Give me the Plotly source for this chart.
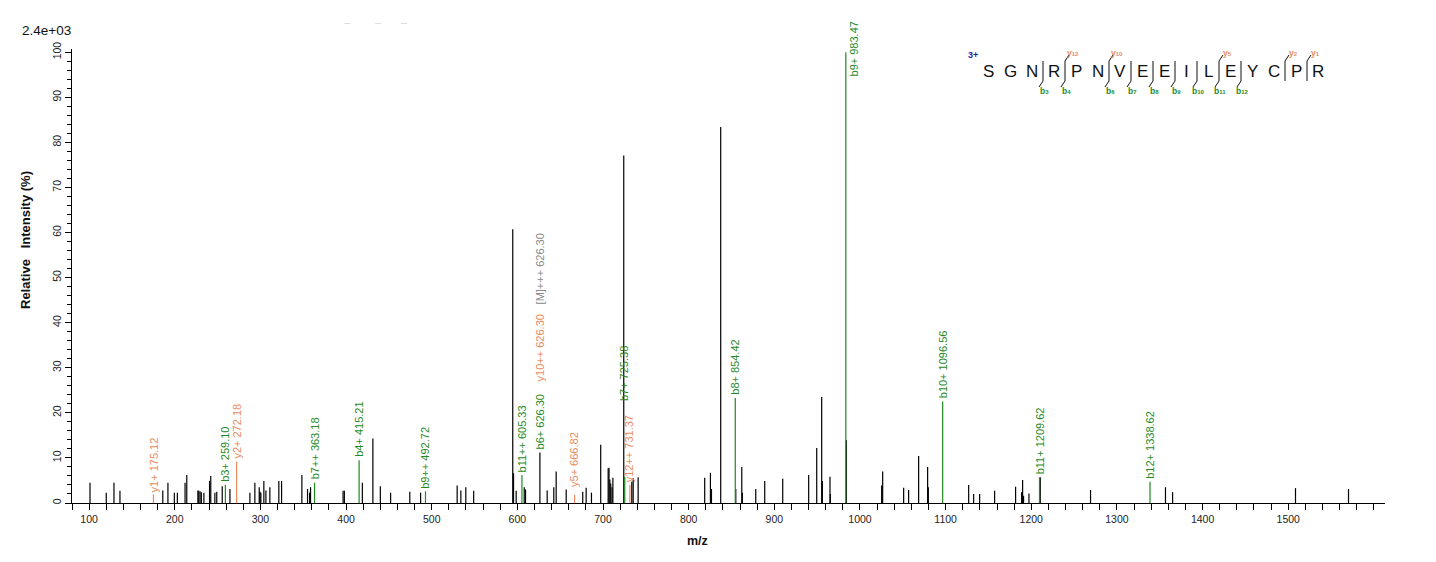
import plotly.graph_objects as go

# ---------------- data ----------------
# unannotated (black) peaks: m/z and relative intensity (%)
peak_mz = [101, 120, 129, 136, 186, 192, 199.5, 203, 212, 214, 227, 228, 229.5, 231, 234,
           240.6, 242, 246.8, 249, 255.4, 264.4, 287.7, 293.5, 298.6, 299.5, 300.5, 304,
           306.4, 311, 321.5, 324.7, 348.4, 355, 357.4, 358.5, 396.5, 398, 419, 431.3, 440,
           452, 474.4, 487, 529.7, 534, 539.8, 549, 594.6, 595.5, 598.6, 608, 609.5, 626.3,
           634.8, 642.5, 645.3, 657, 676.3, 680.3, 686.5, 697.3, 706, 707, 708, 709, 710.5,
           711.5, 724.2, 733.6, 735.2, 741, 818.7, 825.4, 826.6, 837.4, 855, 862, 862.7,
           878.3, 888.8, 909.8, 940.1, 949.5, 955.3, 956.1, 965, 965.4, 984.1, 1025.3,
           1026.5, 1051, 1056.8, 1068.5, 1079, 1079.8, 1126.9, 1132.7, 1139.7, 1157.2,
           1181.7, 1188.7, 1189.9, 1191, 1197.3, 1210.5, 1269.2, 1356.7, 1365, 1508.5, 1570.4]
peak_int = [4.5, 2.3, 4.5, 2.7, 2.8, 4.5, 2.3, 2.3, 4.5, 6.2, 2.8, 2.7, 2.6, 2.4, 2.3,
            4.9, 6.0, 2.3, 2.5, 3.7, 3.1, 2.3, 4.5, 3.5, 2.5, 2.3, 4.9,
            2.8, 3.5, 4.9, 4.9, 6.2, 3.1, 2.3, 3.5, 2.7, 2.7, 4.5, 14.3, 3.7,
            2.3, 2.5, 2.3, 3.9, 2.8, 3.5, 2.7, 60.7, 6.6, 2.7, 3.5, 3.0, 11.2,
            2.8, 3.5, 7.0, 3.0, 2.5, 3.4, 2.3, 12.9, 7.7, 7.8, 5.2, 4.3, 3.5,
            5.6, 77.1, 4.7, 5.5, 5.7, 5.6, 6.7, 3.1, 83.4, 3.1, 8.0, 2.3,
            3.1, 4.9, 5.4, 6.2, 12.2, 23.5, 4.9, 5.8, 2.0, 13.9, 3.9,
            7.0, 3.4, 2.9, 10.4, 8.0, 3.5, 4.0, 2.0, 2.0, 2.7,
            3.6, 2.4, 5.1, 1.6, 2.1, 5.7, 2.9, 3.5, 2.4, 3.3, 3.1]

# annotated fragment ions
ion_label = ["y1+ 175.12", "b3+ 259.10", "y2+ 272.18", "b7++ 363.18", "b4+ 415.21",
             "b9++ 492.72", "b11++ 605.33", "b6+ 626.30", "y10++ 626.30", "[M]+++ 626.30",
             "y5+ 666.82", "b7+ 725.38", "y12++ 731.37", "b8+ 854.42", "b9+ 983.47",
             "b10+ 1096.56", "b11+ 1209.62", "b12+ 1338.62"]
ion_mz = [175.12, 259.10, 272.18, 363.18, 415.21, 492.72, 605.33, 626.30, 626.30, 626.30,
          666.82, 725.38, 731.37, 854.42, 983.47, 1096.56, 1209.62, 1338.62]
ion_int = [1.9, 4.0, 9.2, 4.5, 9.5, 2.6, 6.2, 11.2, 11.2, 11.2,
           1.8, 5.8, 4.0, 23.3, 100, 22.5, 5.7, 4.7]
ion_type = ["y", "b", "y", "b", "b", "b", "b", "b", "y", "M",
            "y", "b", "y", "b", "b", "b", "b", "b"]
ion_has_line = [True, True, True, True, True, True, True, False, False, False,
                True, True, True, True, True, True, True, True]

sequence = list("SGNRPNVEEILEYCPR")
b_sites = [3, 4, 6, 7, 8, 9, 10, 11, 12]
y_sites = [12, 10, 5, 2, 1]
charge_label = "3+"

x_major_ticks = list(range(100, 1501, 100))
y_major_ticks = list(range(0, 101, 10))

# ---------------- style ----------------
GREEN = "#1f8a1f"
ORANGE = "#ea8a5a"
GRAY = "#8a8a8a"
NAVY = "#1c1ca8"
col = {"b": GREEN, "y": ORANGE, "M": GRAY}
FONT = "Liberation Sans, Arial, sans-serif"

# label stacking offsets (px above peak top)
label_shift = [1, 2, 2, 2, 2, 2, 2, 2.5, 70.5, 147.5, 7, 75, 2, 2, 0, 2, 2, 2]

BODY = 8                      # default page margin around the plot div
SW, SH = 1436, 562            # screen size
W, H = SW - 2 * BODY, SH - 2 * BODY
PL, PR, PT, PB = 72, 1385, 49, 503   # plot area in screen pixels
L, T = PL - BODY, PT - BODY
PW, PH = PR - PL, PB - PT
R, B = W - L - PW, H - T - PH


def px(xs):
    return (xs - PL) / PW


def py(ys):
    return (PB - ys) / PH


fig = go.Figure()

# black peaks
xs, ys = [], []
for m, v in zip(peak_mz, peak_int):
    xs += [m, m, None]
    ys += [0, v, None]
fig.add_trace(go.Scatter(x=xs, y=ys, mode="lines", line=dict(color="black", width=1.2),
                         hoverinfo="skip", showlegend=False))

# coloured ion peaks
for t in ["b", "y"]:
    xs, ys = [], []
    for m, v, tt, hl in zip(ion_mz, ion_int, ion_type, ion_has_line):
        if tt == t and hl:
            xs += [m, m, None]
            ys += [0, v, None]
    fig.add_trace(go.Scatter(x=xs, y=ys, mode="lines", line=dict(color=col[t], width=1.2),
                             hoverinfo="skip", showlegend=False))

ann = []
for lab, m, v, t, s in zip(ion_label, ion_mz, ion_int, ion_type, label_shift):
    a = dict(x=m, y=v, xref="x", yref="y", text=lab, showarrow=False, textangle=-90,
             font=dict(family=FONT, size=11, color=col[t]), xanchor="center",
             yanchor="bottom", yshift=s, borderpad=0)
    if v >= 99:
        a.update(xanchor="left", xshift=1, yshift=-25)
    ann.append(a)


def ptext(x, y, text, size, color, angle=0, xa="center", ya="middle"):
    ann.append(dict(x=px(x), y=py(y), xref="paper", yref="paper", text=text,
                    showarrow=False, xanchor=xa, yanchor=ya, textangle=angle,
                    font=dict(family=FONT, size=size, color=color)))


# corner scale
ptext(20, 31, "2.4e+03", 13.5, "#111", xa="left")
# faint dashes at top
for xd in [347, 378, 404]:
    ptext(xd, 22, "\u2013", 11, "#d8d8d8")
# axis titles
ptext(25, 240, "<b>Relative\u00a0\u00a0\u00a0Intensity (%)</b>", 13, "#111", angle=-90)
ptext(697, 541, "<b>m/z</b>", 12.5, "#111")

# peptide sequence
x0, dx, yl = 988, 22, 72
shapes = []
for i, aa in enumerate(sequence):
    ptext(x0 + dx * i, yl, aa, 17, "#111")
ptext(973, 55, "<b>" + charge_label + "</b>", 9, NAVY)


def site_x(k):
    return x0 + dx * (k - 1) + dx / 2


def pline(xa, ya, xb, yb):
    shapes.append(dict(type="line", xref="paper", yref="paper", x0=px(xa), x1=px(xb),
                       y0=py(ya), y1=py(yb), line=dict(color="#111", width=1)))


line_sites = sorted(set(b_sites) | set(16 - n for n in y_sites))
for k in line_sites:
    pline(site_x(k), 61, site_x(k), 81)
for k in b_sites:
    xx = site_x(k)
    pline(xx, 81, xx - 4, 87)
    ptext(xx + 1, 91, "<b>b<span style='font-size:6px'>%d</span></b>" % k, 8.5, GREEN)
for n in y_sites:
    xx = site_x(16 - n)
    pline(xx, 61, xx + 4, 55)
    ptext(xx + 8, 53, "<b>y<span style='font-size:6px'>%d</span></b>" % n, 8.5, ORANGE)

fig.update_layout(
    width=W, height=H, margin=dict(l=L, r=R, t=T, b=B, pad=0),
    paper_bgcolor="white", plot_bgcolor="white",
    annotations=ann, shapes=shapes, showlegend=False,
    xaxis=dict(range=[80, 1613], showgrid=False, zeroline=False, showline=True,
               linecolor="black", linewidth=1, ticks="outside", ticklen=6, tickcolor="black",
               tickvals=x_major_ticks, ticktext=[str(v) for v in x_major_ticks],
               minor=dict(dtick=20, tick0=0, ticks="outside", ticklen=6, tickcolor="black"),
               tickfont=dict(family=FONT, size=10.5, color="#222")),
    yaxis=dict(range=[0, 100.7], showgrid=False, zeroline=False, showline=True,
               linecolor="black", linewidth=1, ticks="outside", ticklen=6, tickcolor="black",
               tickvals=y_major_ticks, ticktext=[str(v) for v in y_major_ticks], tickangle=-90,
               minor=dict(dtick=2, tick0=0, ticks="outside", ticklen=4, tickcolor="black"),
               tickfont=dict(family=FONT, size=10.5, color="#222")),
)

fig.write_html("out.html")
